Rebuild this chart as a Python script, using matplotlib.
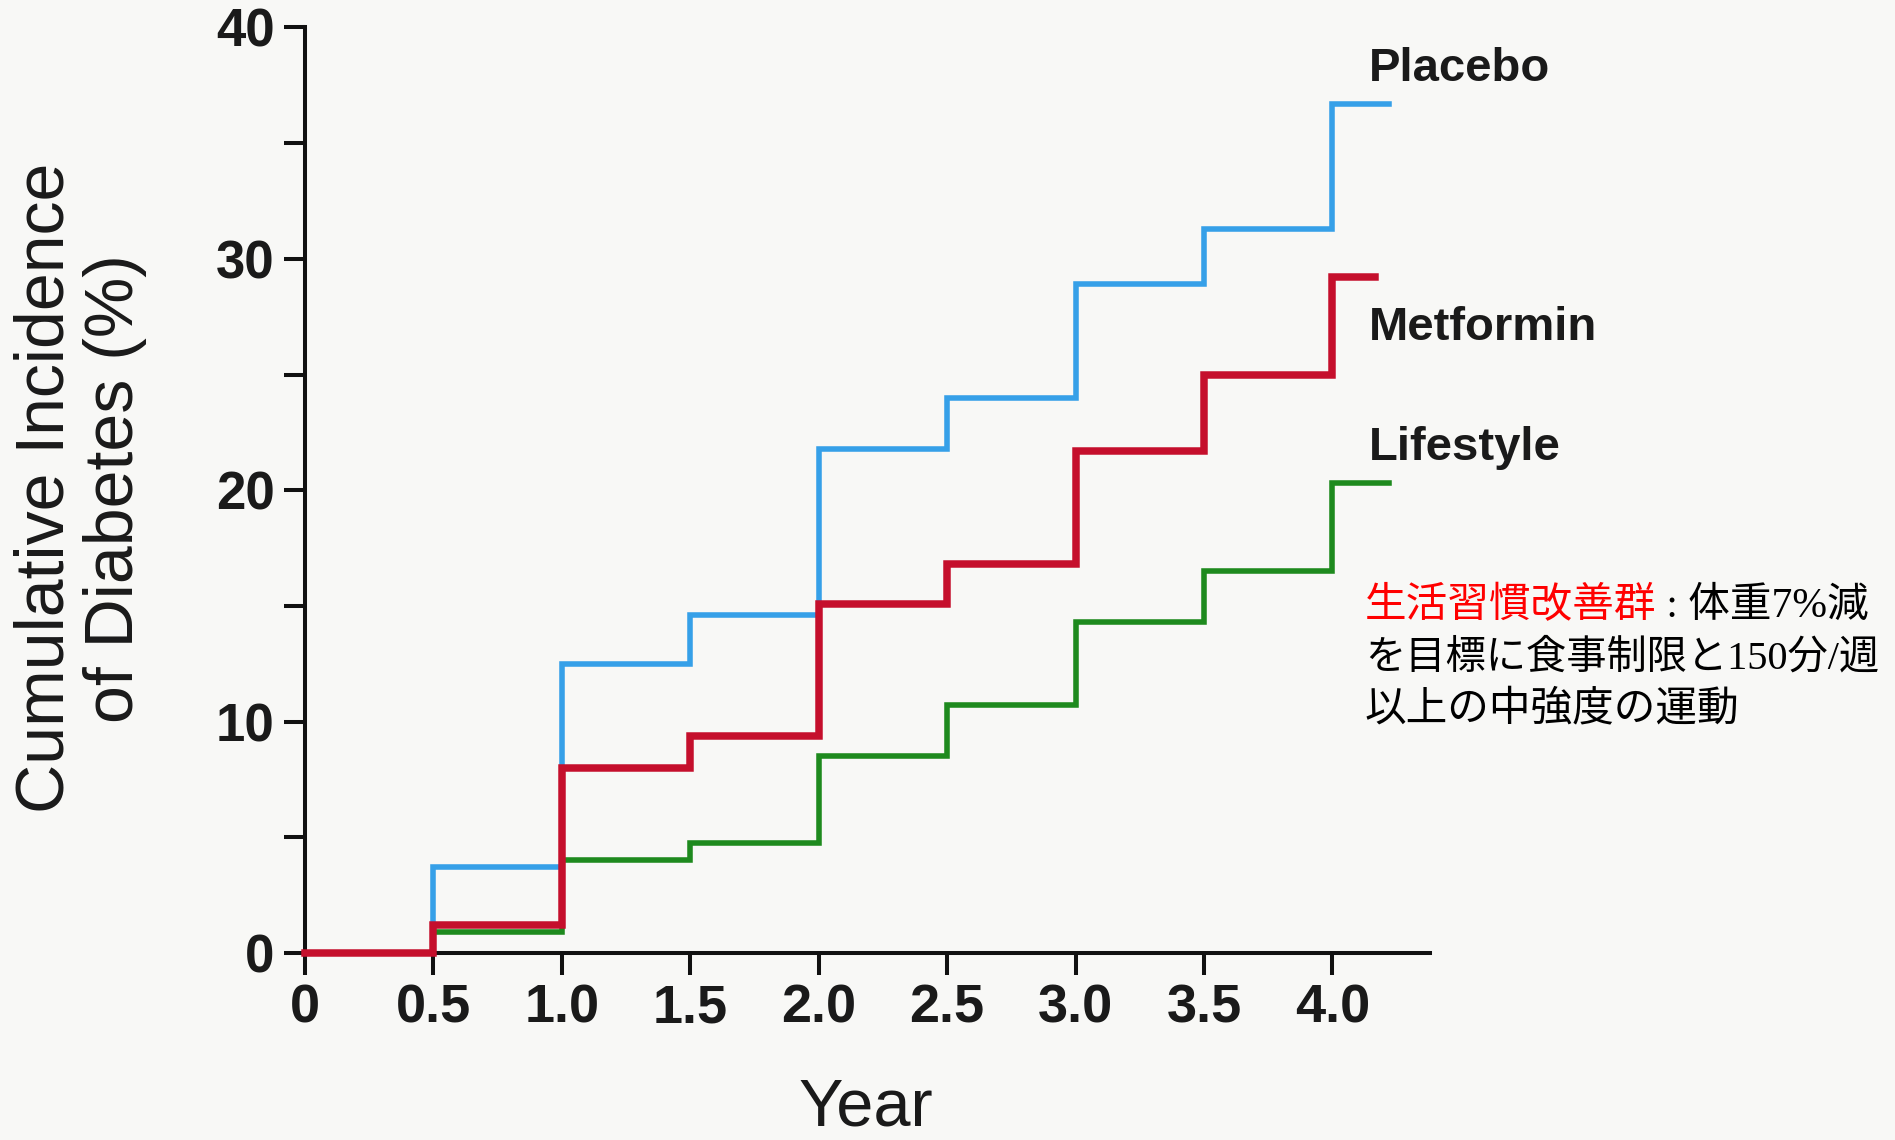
import matplotlib
matplotlib.use("Agg")
import matplotlib.pyplot as plt

years = [0, 0.5, 1.0, 1.5, 2.0, 2.5, 3.0, 3.5, 4.0]
placebo = [0, 3.7, 12.5, 14.6, 21.8, 24.0, 28.9, 31.3, 36.7]
metformin = [0, 1.2, 8.0, 9.4, 15.1, 16.8, 21.7, 25.0, 29.2]
lifestyle = [0, 0.9, 4.0, 4.75, 8.5, 10.7, 14.3, 16.5, 20.3]
end_year = {"Placebo": 4.22, "Metformin": 4.165, "Lifestyle": 4.22}

xticks = [0, 0.5, 1.0, 1.5, 2.0, 2.5, 3.0, 3.5, 4.0]
xtick_labels = ["0", "0.5", "1.0", "1.5", "2.0", "2.5", "3.0", "3.5", "4.0"]
yticks = [0, 10, 20, 30, 40]

bg = "#f8f8f6"
c_placebo = "#36a0e8"
c_metformin = "#c50f2c"
c_lifestyle = "#1e8a1e"

plt.rcParams["font.family"] = ["Liberation Sans", "DejaVu Sans"]

fig = plt.figure(figsize=(18.95, 11.4), dpi=100, facecolor=bg)
ax = fig.add_axes([0.16095, 0.16404, 0.5937, 0.81184])
ax.set_facecolor(bg)


def steps(vals, end):
    return years + [end], vals + [vals[-1]]


series = [
    ("Placebo", placebo, c_placebo, 4.0, 3),
    ("Lifestyle", lifestyle, c_lifestyle, 4.0, 4),
    ("Metformin", metformin, c_metformin, 5.4, 5),
]
for name, vals, col, lw, z in series:
    xs, ys = steps(vals, end_year[name])
    ax.plot(xs, ys, drawstyle="steps-post", color=col, lw=lw,
            zorder=z, clip_on=False, solid_joinstyle="miter")

ax.set_xlim(0, 4.38)
ax.set_ylim(0, 40)
ax.spines["top"].set_visible(False)
ax.spines["right"].set_visible(False)
for s in ["left", "bottom"]:
    ax.spines[s].set_linewidth(2.9)
    ax.spines[s].set_color("#111111")

ax.set_xticks(xticks)
ax.set_xticklabels(xtick_labels, fontsize=39, fontweight="bold", color="#1a1a1a")
ax.set_yticks(yticks)
ax.set_yticklabels([str(v) for v in yticks], fontsize=38, fontweight="bold",
                   color="#1a1a1a")
ax.set_yticks([5, 15, 25, 35], minor=True)
ax.tick_params(axis="x", length=16, width=2.9, pad=6, color="#111111")
ax.tick_params(axis="y", which="both", length=15, width=2.9, pad=7,
               color="#111111")

# series names
ax.text(4.14, 37.7, "Placebo", fontsize=34, fontweight="bold", color="#1a1a1a")
ax.text(4.14, 26.5, "Metformin", fontsize=34, fontweight="bold", color="#1a1a1a")
ax.text(4.14, 21.3, "Lifestyle", fontsize=34, fontweight="bold", color="#1a1a1a")

# axis titles
fig.text(0.03325, 0.5719, "Cumulative Incidence", rotation=90,
         rotation_mode="anchor", ha="center", va="baseline", fontsize=49,
         color="#1a1a1a")
fig.text(0.0702, 0.571, "of Diabetes (%)", rotation=90,
         rotation_mode="anchor", ha="center", va="baseline", fontsize=49,
         color="#1a1a1a")
fig.text(0.457, 0.0, "Year", ha="center", va="bottom", fontsize=48,
         color="#1a1a1a")

# japanese note
jp = ["Liberation Serif", "Noto Sans CJK JP"]
red = fig.text(0.7203, 0.4588, "生活習慣改善群", color="#ff0000",
               fontsize=30, family=jp, va="baseline")
ax.annotate(" : 体重7%減", xy=(1, 0), xycoords=red, va="bottom", ha="left",
            fontsize=30, family=jp, color="black", annotation_clip=False)
fig.text(0.7203, 0.4132, "を目標に食事制限と150分/週", fontsize=29,
         family=jp, va="baseline")
fig.text(0.7203, 0.3684, "以上の中強度の運動", fontsize=30,
         family=jp, va="baseline")

fig.savefig("out.png", dpi=100, facecolor=bg)
